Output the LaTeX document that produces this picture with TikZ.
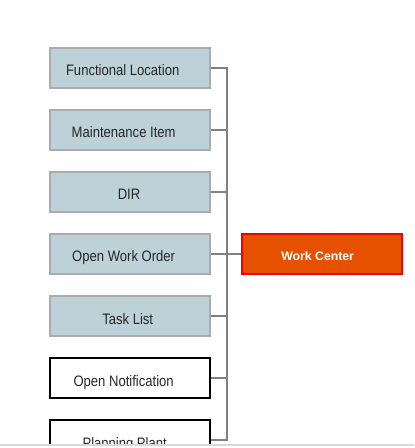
\documentclass[tikz,border=0pt]{standalone}
\usepackage{fontspec}
\setmainfont{Liberation Sans}
\usepackage{graphicx}
\usepackage{tikz}
\usetikzlibrary{positioning}
\definecolor{paleblue}{HTML}{BDD1D9}
\definecolor{frame}{HTML}{ABABAB}
\definecolor{wcorange}{HTML}{E65100}
\definecolor{wcred}{HTML}{F00000}
\definecolor{bus}{HTML}{808080}
\colorlet{rulegrey}{black!15}
\newcommand\tall[1]{\scalebox{1}[1.16]{#1}}

\begin{document}
\begin{tikzpicture}[x=0.75pt,y=-0.75pt,font=\fontsize{9.8}{12}\selectfont,
    objbox/.style={draw=frame,fill=paleblue,line width=1.5pt,minimum width=120pt,
                   minimum height=30pt,inner sep=0pt,text=black!85,
                   text height=13.5pt,text depth=1.5pt},
    openbox/.style={objbox,draw=black,fill=white},
    centerbox/.style={objbox,draw=wcred,fill=wcorange,text=white,
                      text height=11.5pt,font=\fontsize{9.2}{11}\selectfont\bfseries},
    nudge/.style={execute at begin node=\hspace*{#1}},
    link/.style={draw=bus,line width=1.5pt}]
    \useasboundingbox (0,0) rectangle (414,448);

    \begin{scope}
      \clip (0,0) rectangle (414,444);
      \node[objbox,nudge=-11pt] (floc) at (130,68) {\tall{Functional Location}};
      \node[objbox,nudge=-9.5pt] (mitem) at (130,130) {\tall{Maintenance Item}};
      \node[objbox,nudge=-1.5pt] (dir) at (130,192) {\tall{DIR}};
      \node[objbox,nudge=-9.5pt] (owo) at (130,254) {\tall{Open Work Order}};
      \node[objbox,nudge=-3.5pt] (tlist) at (130,316) {\tall{Task List}};
      \node[openbox,nudge=-9.5pt] (onotif) at (130,378) {\tall{Open Notification}};
      \node[openbox,nudge=-8pt] (pplant) at (130,440) {\tall{Planning Plant}};

      \node[centerbox,nudge=-6.5pt] (wc) at (322,254) {Work Center};

      % bracket joining the objects
      \foreach \n/\y in {floc/68,mitem/130,dir/192,owo/254,tlist/316,onotif/378,pplant/440}{
        \coordinate (j-\n) at (227,\y);
        \draw[link] (\n.east) -- (j-\n);
      }
      \draw[link,line cap=rect] (j-floc) -- (j-pplant);
      \draw[link] (j-owo) -- (wc.west);
    \end{scope}

    \fill[rulegrey] (0,444) rectangle (414,446);
  \end{tikzpicture}
\end{document}
